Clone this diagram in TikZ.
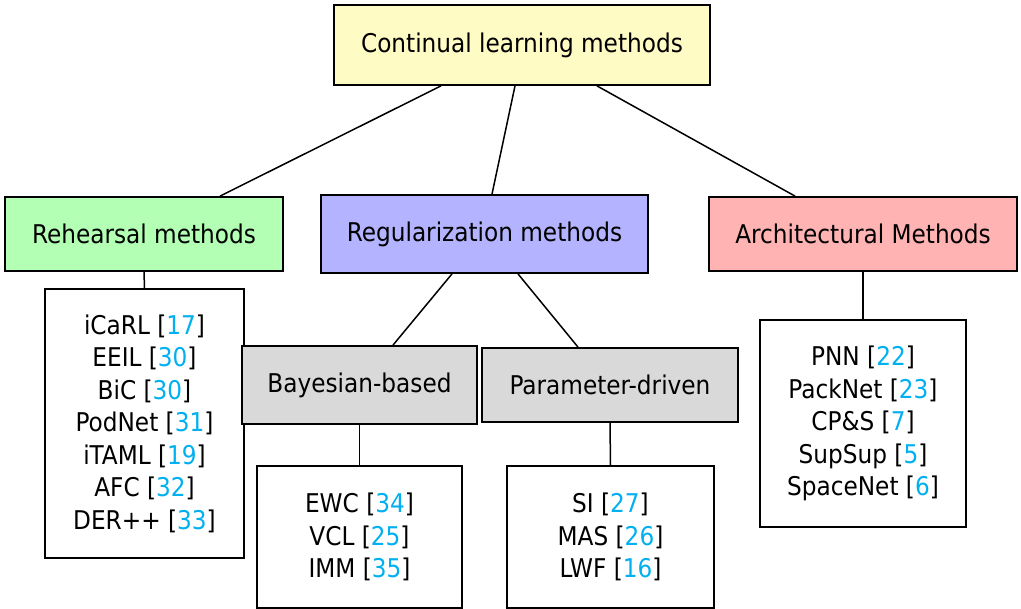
\documentclass[tikz,border=0pt]{standalone}
\usepackage{fontspec}
\setmainfont{DejaVu Sans Condensed}
\definecolor{topfill}{RGB}{255,251,197}
\definecolor{rehfill}{RGB}{179,255,179}
\definecolor{regfill}{RGB}{179,179,255}
\definecolor{archfill}{RGB}{255,179,179}
\definecolor{subfill}{RGB}{217,217,217}
\definecolor{citecol}{RGB}{0,176,240}
\newcommand{\cit}[1]{[\textcolor{citecol}{#1}]}
\tikzset{
  box/.style={draw=black, line width=1.8pt, inner sep=0pt, align=center,
    font=\fontsize{25.8}{32.5}\selectfont},
  link/.style={draw=black, line width=1.5pt}
}
\begin{document}
\begin{tikzpicture}[x=1pt, y=-1pt]
\useasboundingbox (0,0) rectangle (1021,609);
% category boxes
\node[box, fill=topfill, minimum width=376pt, minimum height=80pt] (top) at (522,45) {Continual learning methods};
\node[box, fill=rehfill, minimum width=278pt, minimum height=74pt] (reh) at (144,234) {Rehearsal methods};
\node[box, fill=regfill, minimum width=327pt, minimum height=78pt] (reg) at (484.5,234) {Regularization methods};
\node[box, fill=archfill, minimum width=308pt, minimum height=74pt] (arch) at (863,234) {Architectural Methods};
% method lists
\node[box, fill=white, minimum width=199pt, minimum height=269pt] (rehlist) at (144.5,423.5)
  {iCaRL \cit{17}\\ EEIL \cit{30}\\ BiC \cit{30}\\ PodNet \cit{31}\\ iTAML \cit{19}\\ AFC \cit{32}\\ DER++ \cit{33}};
\node[box, fill=subfill, minimum width=235pt, minimum height=78pt] (bay) at (359.5,385) {Bayesian-based};
\node[box, fill=subfill, minimum width=256pt, minimum height=74pt] (par) at (610,385) {Parameter-driven};
\node[box, fill=white, minimum width=205pt, minimum height=142pt] (ewc) at (359.5,537)
  {EWC \cit{34}\\ VCL \cit{25}\\ IMM \cit{35}};
\node[box, fill=white, minimum width=207pt, minimum height=142pt] (si) at (610.5,537)
  {SI \cit{27}\\ MAS \cit{26}\\ LWF \cit{16}};
\node[box, fill=white, minimum width=206pt, minimum height=207pt] (archlist) at (863,423.5)
  {PNN \cit{22}\\ PackNet \cit{23}\\ CP\&S \cit{7}\\ SupSup \cit{5}\\ SpaceNet \cit{6}};
% connectors
\draw[link] ([xshift=-81pt]top.south) -- ([xshift=76pt]reh.north);
\draw[link] ([xshift=-7pt]top.south) -- ([xshift=7.5pt]reg.north);
\draw[link] ([xshift=75pt]top.south) -- ([xshift=-68pt]arch.north);
\draw[link] (reh.south) -- (rehlist.north);
\draw[link] ([xshift=-32.5pt]reg.south) -- ([xshift=33.5pt]bay.north);
\draw[link] ([xshift=33.5pt]reg.south) -- ([xshift=-32pt]par.north);
\draw[link] (bay.south) -- (ewc.north);
\draw[link] (par.south) -- (si.north);
\draw[link] (arch.south) -- (archlist.north);
\end{tikzpicture}
\end{document}
